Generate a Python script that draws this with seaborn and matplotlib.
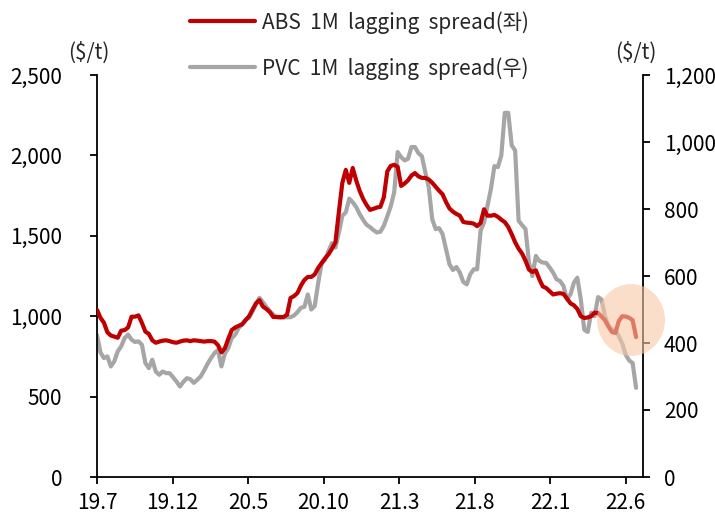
import numpy as np
import pandas as pd
import matplotlib
matplotlib.use("Agg")
import matplotlib.pyplot as plt
import seaborn as sns
from matplotlib.patches import Ellipse

# ---- data (weekly, 2019.7 ~ 2022.7) ----
abs_spread = [
    1040, 990, 960, 900, 880, 873, 866, 910, 914, 930,
    997, 997, 1005, 958, 904, 890, 850, 835, 842, 848,
    850, 845, 838, 835, 842, 848, 850, 845, 850, 848,
    845, 842, 845, 845, 842, 820, 775, 800, 860, 914,
    930, 940, 950, 975, 1000, 1040, 1080, 1100, 1060, 1045,
    1026, 995, 995, 995, 995, 1010, 1113, 1125, 1144, 1190,
    1225, 1244, 1244, 1260, 1300, 1330, 1360, 1385, 1420, 1460,
    1650, 1830, 1910, 1829, 1922, 1845, 1780, 1730, 1692, 1661,
    1668, 1676, 1680, 1740, 1900, 1935, 1941, 1930, 1810, 1825,
    1845, 1875, 1890, 1870, 1860, 1860, 1850, 1830, 1805, 1780,
    1758, 1710, 1670, 1650, 1636, 1625, 1586, 1582, 1580, 1576,
    1560, 1580, 1665, 1625, 1625, 1630, 1618, 1600, 1585, 1555,
    1510, 1460, 1420, 1390, 1345, 1290, 1275, 1285, 1230, 1185,
    1175, 1155, 1135, 1140, 1143, 1138, 1110, 1080, 1068, 1045,
    1000, 989, 992, 1000, 1022, 1020, 997, 975, 935, 902,
    896, 970, 1000, 998, 990, 975, 870,
]
pvc_spread = [
    424, 372, 355, 360, 330, 345, 375, 390, 415, 425,
    410, 403, 405, 395, 340, 325, 350, 315, 305, 315,
    310, 310, 298, 285, 270, 284, 295, 292, 281, 290,
    300, 318, 338, 355, 370, 379, 330, 368, 385, 415,
    425, 445, 455, 470, 475, 495, 515, 535, 522, 508,
    495, 485, 477, 475, 476, 477, 477, 482, 492, 505,
    508, 545, 500, 510, 579, 638, 648, 675, 698, 685,
    730, 780, 790, 831, 820, 806, 785, 768, 753, 746,
    737, 730, 732, 750, 778, 808, 850, 970, 955, 945,
    950, 985, 985, 967, 958, 910, 865, 770, 740, 743,
    725, 680, 635, 618, 627, 610, 582, 575, 605, 620,
    620, 735, 760, 810, 860, 928, 925, 960, 1087, 1087,
    990, 975, 765, 752, 740, 640, 600, 660, 645, 640,
    639, 625, 610, 590, 585, 570, 530, 545, 580, 595,
    530, 440, 433, 490, 480, 537, 530, 480, 452, 440,
    440, 420, 398, 365, 348, 340, 266,
]
x_labels = ["19.7", "19.12", "20.5", "20.10", "21.3", "21.8", "22.1", "22.6"]
left_ticks = [0, 500, 1000, 1500, 2000, 2500]
right_ticks = [0, 200, 400, 600, 800, 1000, 1200]
abs_label = "ABS  1M  lagging  spread(좌)"
pvc_label = "PVC  1M  lagging  spread(우)"

df = pd.DataFrame({"week": np.arange(len(abs_spread)),
                   "ABS": abs_spread, "PVC": pvc_spread})

sns.set_theme(style="white")
plt.rcParams["font.family"] = ["Noto Sans CJK KR", "DejaVu Sans"]

RED = "#C00000"
GRAY = "#A6A6A6"
FS = 15

fig = plt.figure(figsize=(7.15, 5.23), dpi=100)
ax = fig.add_axes([97 / 715, 46 / 523, 546 / 715, 402 / 523])
ax2 = ax.twinx()

sns.lineplot(data=df, x="week", y="ABS", ax=ax, color=RED, linewidth=3.0,
             label=abs_label, legend=False, zorder=3)
sns.lineplot(data=df, x="week", y="PVC", ax=ax2, color=GRAY, linewidth=3.0,
             label=pvc_label, legend=False, zorder=2)

ax.set_zorder(ax2.get_zorder() + 1)
ax.patch.set_visible(False)

ax.set_xlim(0, 158)
ax.set_ylim(0, 2500)
ax2.set_ylim(0, 1200)
ax.set_yticks(left_ticks)
ax.set_yticklabels([f"{v:,}" for v in left_ticks])
ax2.set_yticks(right_ticks)
ax2.set_yticklabels([f"{v:,}" for v in right_ticks])
tick_pos = np.arange(len(x_labels)) * 21.86
ax.set_xticks(tick_pos)
ax.set_xticklabels(x_labels)
ax.set_xlabel("")
ax.set_ylabel("")
ax2.set_ylabel("")

for a in (ax, ax2):
    a.grid(False)
    for s in a.spines.values():
        s.set_color("black")
        s.set_linewidth(1.3)
    a.spines["top"].set_visible(False)
ax.spines["right"].set_visible(False)
ax2.spines["left"].set_visible(False)
ax2.spines["bottom"].set_visible(False)

ax.tick_params(axis="y", direction="out", length=5, width=1.3, color="black",
               labelsize=FS, pad=20, labelcolor="black")
ax.tick_params(axis="x", direction="out", length=5, width=1.3, color="black",
               labelsize=FS, pad=6, labelcolor="black", bottom=True)
ax2.tick_params(axis="y", direction="out", length=5, width=1.3, color="black",
                labelsize=FS, pad=10, labelcolor="black", right=True)

fig.text(89 / 715, 1 - 53 / 523, "($/t)", ha="center", va="center", fontsize=FS)
fig.text(636 / 715, 1 - 53 / 523, "($/t)", ha="center", va="center", fontsize=FS)

h1, l1 = ax.get_legend_handles_labels()
h2, l2 = ax2.get_legend_handles_labels()
fig.legend(h1 + h2, l1 + l2, loc="upper left",
           bbox_to_anchor=(190 / 715, 1 - 11 / 523), frameon=False,
           fontsize=FS, handlelength=3.1, handletextpad=0.35,
           labelspacing=1.12, borderpad=0, borderaxespad=0)

ell = Ellipse((631 / 715, 1 - 320 / 523), 68 / 715, 72 / 523,
              transform=fig.transFigure, facecolor="#F8C9A6", edgecolor="none",
              alpha=0.6, zorder=10, clip_on=False)
fig.patches.append(ell)

fig.savefig("out.png", dpi=100)
